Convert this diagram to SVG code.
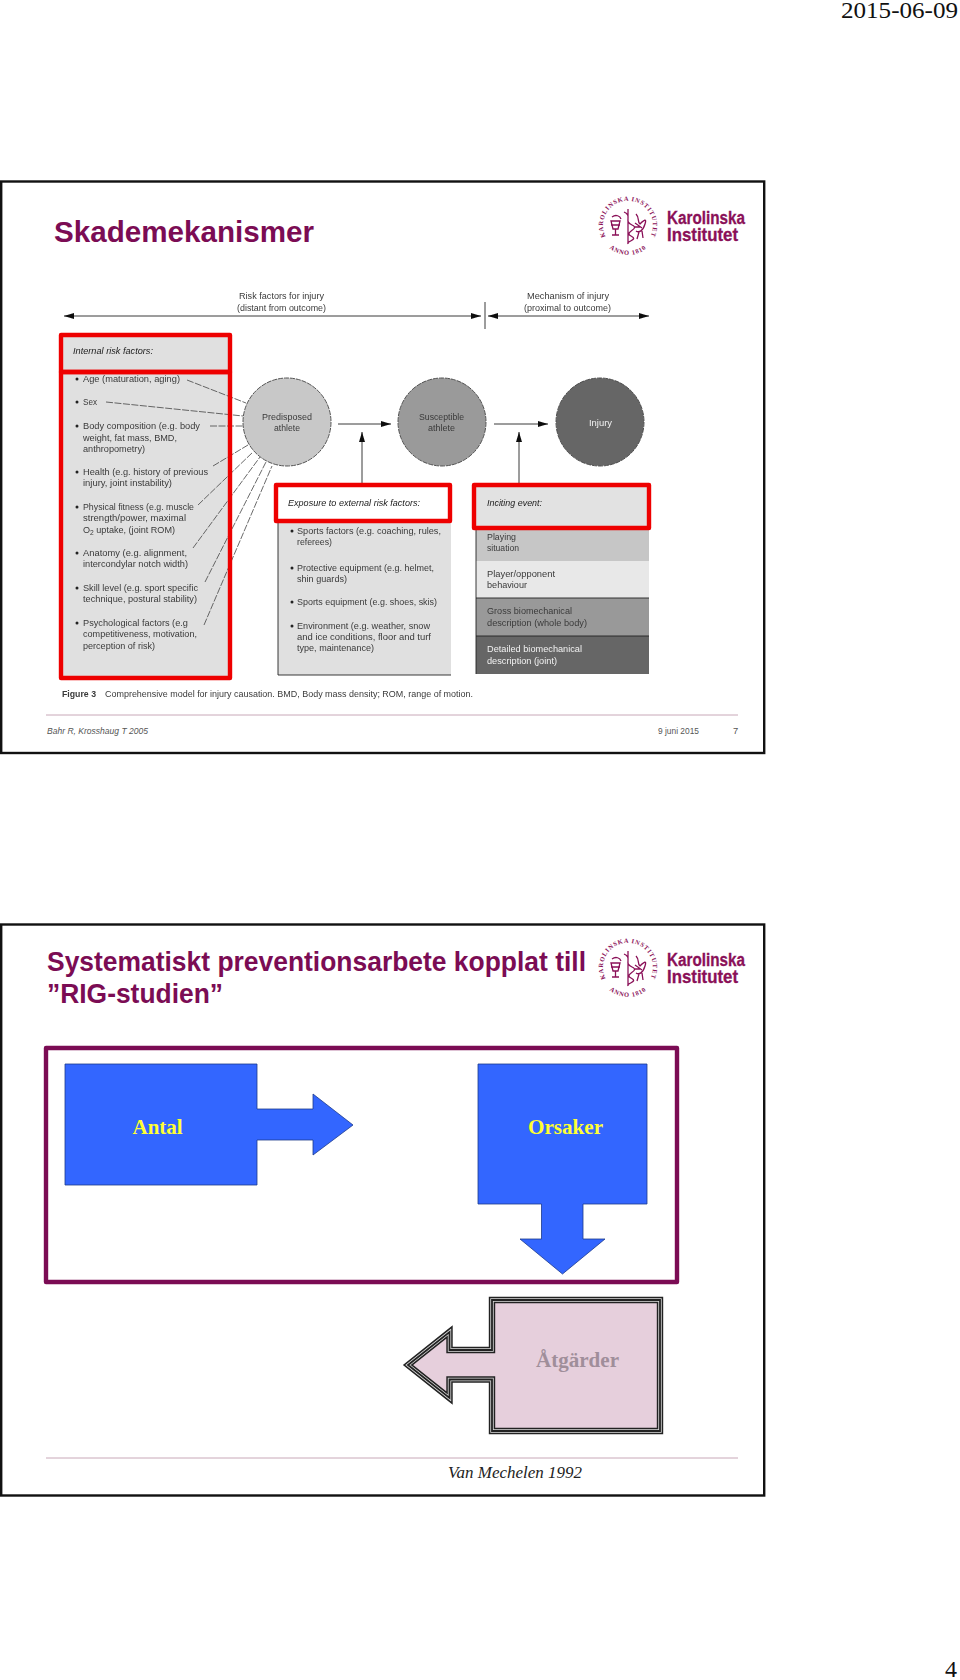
<svg xmlns="http://www.w3.org/2000/svg" width="960" height="1680" viewBox="0 0 960 1680">
<style>
.frame{fill:#fff;stroke:#111;stroke-width:2.4}
.page{font-family:"Liberation Serif",serif;font-size:24px;fill:#111}
.title{font-family:"Liberation Sans",Arial,sans-serif;font-weight:700;fill:#7b0c54}
.f{font-family:"Liberation Sans",Arial,sans-serif;font-size:9.5px;fill:#3a3a3a}
.i{font-style:italic;fill:#222}
.w{fill:#f2f2f2}
.red{fill:none;stroke:#ee0000;stroke-width:4.4;stroke-linejoin:round}
.ln{stroke:#222;stroke-width:.9;fill:none}
.dash{stroke:#444;stroke-width:.8;stroke-dasharray:7 1.5;fill:none}
.circ{stroke:#444;stroke-width:.9;stroke-dasharray:5 1}
.rule{stroke:#c8a8b8;stroke-width:1}
.foot{font-family:"Liberation Sans",Arial,sans-serif;font-size:9.4px;fill:#555}
.blue{fill:#3366ff;stroke:#1c3a8c;stroke-width:.8}
.lab{font-family:"Liberation Serif",serif;font-weight:700;font-size:21px}
.kt{font-family:"Liberation Sans",Arial,sans-serif;font-weight:700;font-size:18px;fill:#8a1058;stroke:#8a1058;stroke-width:.3}
.ring{font-family:"Liberation Serif",serif;font-weight:700;font-size:6.4px;fill:#8a1058;letter-spacing:.8px}
.em{fill:none;stroke:#8a1058;stroke-width:1.3}
</style>
<defs>
<marker id="ah" viewBox="0 0 10 6" refX="10" refY="3" markerWidth="10" markerHeight="6" markerUnits="userSpaceOnUse" orient="auto-start-reverse"><path d="M0 0L10 3L0 6z" fill="#111"/></marker>
<path id="ringTop" d="M-23 9.500A25 25 0 1 1 23 9.500"/>
<path id="ringBot" d="M-18 22.700A29 29 0 0 0 18 22.700"/>
<filter id="soft" x="-2%" y="-2%" width="104%" height="104%"><feGaussianBlur stdDeviation="0.28"/></filter>
<g id="logo">
<text class="ring"><textPath href="#ringTop" startOffset="50%" text-anchor="middle">KAROLINSKA INSTITUTET</textPath></text>
<text class="ring"><textPath href="#ringBot" startOffset="50%" text-anchor="middle">ANNO 1810</textPath></text>
<path class="em" d="M0-17V18M-4-14C5-10-5-5 4-1S-5 6 3 10S-2 15 0 18M-17-5H-8L-10 3H-15ZM-12.500 3V9M-16 9H-9M-16-9C-12-12-8-10-7-7M-17-1H-8M8-12C12-8 9-4 12-2C16-6 19-8 17-2C15 5 11 7 8 5M11 6L9 13M14 5L15 12M7-3L14 2M6 1H12"/>
<text class="kt" x="39" y="-2" textLength="78" lengthAdjust="spacingAndGlyphs">Karolinska</text>
<text class="kt" x="39" y="15" textLength="71" lengthAdjust="spacingAndGlyphs">Institutet</text>
</g>
<path id="at" d="M492 1300H660V1431H492V1379.500H449.500V1398L408 1365L449.500 1332V1350H492Z"/>
</defs>

<g id="page-date"><text class="page" x="841" y="18" textLength="117" lengthAdjust="spacingAndGlyphs">2015-06-09</text></g>
<g id="page-number"><text class="page" x="945" y="1677">4</text></g>

<g id="slide-1">
<rect class="frame" x="1.200" y="181.500" width="763" height="571.500"/>
<text class="title" x="54" y="242" font-size="29" textLength="260" lengthAdjust="spacingAndGlyphs">Skademekanismer</text>
<use href="#logo" x="628" y="226"/>
<line class="rule" x1="46" y1="715" x2="738" y2="715"/>
<text class="foot" x="47" y="734" font-style="italic" textLength="101" lengthAdjust="spacingAndGlyphs">Bahr R, Krosshaug T 2005</text>
<text class="foot" x="658" y="734" fill="#777" textLength="41" lengthAdjust="spacingAndGlyphs">9 juni 2015</text>
<text class="foot" x="733" y="734">7</text>

<g id="figure" filter="url(#soft)">
<g id="panels">
<rect x="60" y="335" width="171" height="344" fill="#e0e0e0"/>
<path d="M278 523V675H451V523Z" fill="#e0e0e0"/>
<path d="M278 523V675H451" class="ln" stroke-width="1"/>
<rect x="476" y="485" width="173" height="45" fill="#e2e2e2"/>
<rect x="476" y="530" width="173" height="31" fill="#c6c6c6"/>
<rect x="476" y="561" width="173" height="37" fill="#e8e8e8"/>
<rect x="476" y="598" width="173" height="38" fill="#999"/>
<rect x="476" y="636" width="173" height="38" fill="#666"/>
<path d="M476 598H649M476 636H649" class="ln"/>
<path d="M476 530V674" class="ln" stroke="#555"/>
</g>
<g id="connectors">
<line class="ln" x1="64" y1="316" x2="481" y2="316" marker-start="url(#ah)" marker-end="url(#ah)"/>
<line class="ln" x1="488" y1="316" x2="649" y2="316" marker-start="url(#ah)" marker-end="url(#ah)"/>
<line class="ln" x1="485" y1="302" x2="485" y2="329"/>
<line class="ln" x1="338" y1="424" x2="391" y2="424" marker-end="url(#ah)"/>
<line class="ln" x1="494" y1="424" x2="548" y2="424" marker-end="url(#ah)"/>
<line class="ln" x1="362" y1="483" x2="362" y2="432" marker-end="url(#ah)"/>
<line class="ln" x1="519" y1="483" x2="519" y2="432" marker-end="url(#ah)"/>
<line class="dash" x1="187" y1="380" x2="246" y2="403"/>
<line class="dash" x1="106" y1="402" x2="243" y2="416"/>
<line class="dash" x1="210" y1="426" x2="243" y2="426"/>
<line class="dash" x1="213" y1="466" x2="248" y2="445"/>
<line class="dash" x1="198" y1="505" x2="253" y2="452"/>
<line class="dash" x1="193" y1="548" x2="260" y2="457"/>
<line class="dash" x1="205" y1="582" x2="267" y2="460"/>
<line class="dash" x1="204" y1="625" x2="272" y2="466"/>
</g>
<g id="node-predisposed"><circle class="circ" cx="287" cy="422" r="44" fill="#c8c8c8"/>
<text class="f" x="262" y="420" textLength="50" lengthAdjust="spacingAndGlyphs">Predisposed</text><text class="f" x="274" y="431" textLength="26" lengthAdjust="spacingAndGlyphs">athlete</text></g>
<g id="node-susceptible"><circle class="circ" cx="442" cy="422" r="44" fill="#9a9a9a"/>
<text class="f" x="419" y="420" textLength="45" lengthAdjust="spacingAndGlyphs">Susceptible</text><text class="f" x="428" y="431" textLength="27" lengthAdjust="spacingAndGlyphs">athlete</text></g>
<g id="node-injury"><circle class="circ" cx="600" cy="422" r="44" fill="#666"/>
<text class="f w" x="589" y="426" textLength="23" lengthAdjust="spacingAndGlyphs">Injury</text></g>
<g id="headers">
<text class="f" x="239" y="299" textLength="85" lengthAdjust="spacingAndGlyphs">Risk factors for injury</text>
<text class="f" x="237" y="311" textLength="89" lengthAdjust="spacingAndGlyphs">(distant from outcome)</text>
<text class="f" x="527" y="299" textLength="82" lengthAdjust="spacingAndGlyphs">Mechanism of injury</text>
<text class="f" x="524" y="311" textLength="87" lengthAdjust="spacingAndGlyphs">(proximal to outcome)</text>
</g>
<g id="internal-factors">
<text class="f i" x="73" y="354" textLength="80" lengthAdjust="spacingAndGlyphs">Internal risk factors:</text>
<g fill="#222"><circle cx="77" cy="379" r="1.500"/><circle cx="77" cy="402" r="1.500"/><circle cx="77" cy="426" r="1.500"/><circle cx="77" cy="472" r="1.500"/><circle cx="77" cy="507" r="1.500"/><circle cx="77" cy="553" r="1.500"/><circle cx="77" cy="588" r="1.500"/><circle cx="77" cy="623" r="1.500"/></g>
<text class="f" x="83" y="382" textLength="97" lengthAdjust="spacingAndGlyphs">Age (maturation, aging)</text>
<text class="f" x="83" y="405" textLength="14" lengthAdjust="spacingAndGlyphs">Sex</text>
<text class="f" x="83" y="429" textLength="117" lengthAdjust="spacingAndGlyphs">Body composition (e.g. body</text>
<text class="f" x="83" y="441" textLength="94" lengthAdjust="spacingAndGlyphs">weight, fat mass, BMD,</text>
<text class="f" x="83" y="452" textLength="62" lengthAdjust="spacingAndGlyphs">anthropometry)</text>
<text class="f" x="83" y="475" textLength="125" lengthAdjust="spacingAndGlyphs">Health (e.g. history of previous</text>
<text class="f" x="83" y="486" textLength="89" lengthAdjust="spacingAndGlyphs">injury, joint instability)</text>
<text class="f" x="83" y="510" textLength="111" lengthAdjust="spacingAndGlyphs">Physical fitness (e.g. muscle</text>
<text class="f" x="83" y="521" textLength="103" lengthAdjust="spacingAndGlyphs">strength/power, maximal</text>
<text class="f" x="83" y="533" textLength="92" lengthAdjust="spacingAndGlyphs">O<tspan font-size="7" dy="2">2</tspan><tspan dy="-2"> uptake, (joint ROM)</tspan></text>
<text class="f" x="83" y="556" textLength="104" lengthAdjust="spacingAndGlyphs">Anatomy (e.g. alignment,</text>
<text class="f" x="83" y="567" textLength="105" lengthAdjust="spacingAndGlyphs">intercondylar notch width)</text>
<text class="f" x="83" y="591" textLength="115" lengthAdjust="spacingAndGlyphs">Skill level (e.g. sport specific</text>
<text class="f" x="83" y="602" textLength="114" lengthAdjust="spacingAndGlyphs">technique, postural stability)</text>
<text class="f" x="83" y="626" textLength="105" lengthAdjust="spacingAndGlyphs">Psychological factors (e.g</text>
<text class="f" x="83" y="637" textLength="114" lengthAdjust="spacingAndGlyphs">competitiveness, motivation,</text>
<text class="f" x="83" y="649" textLength="72" lengthAdjust="spacingAndGlyphs">perception of risk)</text>
</g>
<g id="exposure">
<text class="f i" x="288" y="506" textLength="132" lengthAdjust="spacingAndGlyphs">Exposure to external risk factors:</text>
<g fill="#222"><circle cx="292" cy="531" r="1.500"/><circle cx="292" cy="568" r="1.500"/><circle cx="292" cy="602" r="1.500"/><circle cx="292" cy="626" r="1.500"/></g>
<text class="f" x="297" y="534" textLength="144" lengthAdjust="spacingAndGlyphs">Sports factors (e.g. coaching, rules,</text>
<text class="f" x="297" y="545" textLength="35" lengthAdjust="spacingAndGlyphs">referees)</text>
<text class="f" x="297" y="571" textLength="137" lengthAdjust="spacingAndGlyphs">Protective equipment (e.g. helmet,</text>
<text class="f" x="297" y="582" textLength="50" lengthAdjust="spacingAndGlyphs">shin guards)</text>
<text class="f" x="297" y="605" textLength="140" lengthAdjust="spacingAndGlyphs">Sports equipment (e.g. shoes, skis)</text>
<text class="f" x="297" y="629" textLength="133" lengthAdjust="spacingAndGlyphs">Environment (e.g. weather, snow</text>
<text class="f" x="297" y="640" textLength="134" lengthAdjust="spacingAndGlyphs">and ice conditions, floor and turf</text>
<text class="f" x="297" y="651" textLength="77" lengthAdjust="spacingAndGlyphs">type, maintenance)</text>
</g>
<g id="inciting">
<text class="f i" x="487" y="506" textLength="55" lengthAdjust="spacingAndGlyphs">Inciting event:</text>
<text class="f" x="487" y="540" textLength="29" lengthAdjust="spacingAndGlyphs">Playing</text>
<text class="f" x="487" y="551" textLength="32" lengthAdjust="spacingAndGlyphs">situation</text>
<text class="f" x="487" y="577" textLength="68" lengthAdjust="spacingAndGlyphs">Player/opponent</text>
<text class="f" x="487" y="588" textLength="40" lengthAdjust="spacingAndGlyphs">behaviour</text>
<text class="f" x="487" y="614" textLength="85" lengthAdjust="spacingAndGlyphs">Gross biomechanical</text>
<text class="f" x="487" y="626" textLength="100" lengthAdjust="spacingAndGlyphs">description (whole body)</text>
<text class="f w" x="487" y="652" textLength="95" lengthAdjust="spacingAndGlyphs">Detailed biomechanical</text>
<text class="f w" x="487" y="664" textLength="70" lengthAdjust="spacingAndGlyphs">description (joint)</text>
</g>
<text class="f" x="62" y="697" font-weight="700" textLength="34" lengthAdjust="spacingAndGlyphs">Figure 3</text>
<text class="f" x="105" y="697" textLength="368" lengthAdjust="spacingAndGlyphs">Comprehensive model for injury causation. BMD, Body mass density; ROM, range of motion.</text>
</g>
<g id="red-highlights">
<rect class="red" x="61" y="335" width="169" height="37"/>
<rect class="red" x="61" y="372" width="169" height="306"/>
<rect class="red" x="276" y="485" width="174" height="36"/>
<rect class="red" x="474" y="485" width="175" height="43"/>
</g>
</g>

<g id="slide-2">
<rect class="frame" x="1.200" y="924.500" width="763" height="571"/>
<text class="title" x="47" y="971" font-size="27.500" textLength="539" lengthAdjust="spacingAndGlyphs">Systematiskt preventionsarbete kopplat till</text>
<text class="title" x="47" y="1003" font-size="27.500" textLength="176" lengthAdjust="spacingAndGlyphs">”RIG-studien”</text>
<use href="#logo" x="628" y="968"/>
<rect id="frame-purple" x="46" y="1048" width="631" height="234" fill="none" stroke="#7b0c54" stroke-width="4.400" stroke-linejoin="round"/>
<g id="node-antal"><path class="blue" d="M65 1064H257V1109H313V1094L353 1125L313 1155V1140H257V1185H65Z"/>
<text class="lab" x="132.500" y="1134" fill="#ffff33">Antal</text></g>
<g id="node-orsaker"><path class="blue" d="M478 1064H647V1204H583V1239H605L562.500 1274L520 1239H541.500V1204H478Z"/>
<text class="lab" x="528" y="1134" fill="#ffff33" textLength="75" lengthAdjust="spacingAndGlyphs">Orsaker</text></g>
<g id="node-atgarder">
<use href="#at" fill="#e6cfdc" stroke="#222" stroke-width="6.400"/>
<use href="#at" fill="none" stroke="#ddd" stroke-width="3.400"/>
<use href="#at" fill="none" stroke="#222" stroke-width="1.800"/>
<text class="lab" x="536" y="1367" fill="#a08e9a" textLength="83" lengthAdjust="spacingAndGlyphs">Åtgärder</text></g>
<line class="rule" x1="46" y1="1458" x2="738" y2="1458"/>
<text x="448" y="1478" font-family="'Liberation Serif',serif" font-style="italic" font-size="17" fill="#222" textLength="134" lengthAdjust="spacingAndGlyphs">Van Mechelen 1992</text>
</g>
</svg>
